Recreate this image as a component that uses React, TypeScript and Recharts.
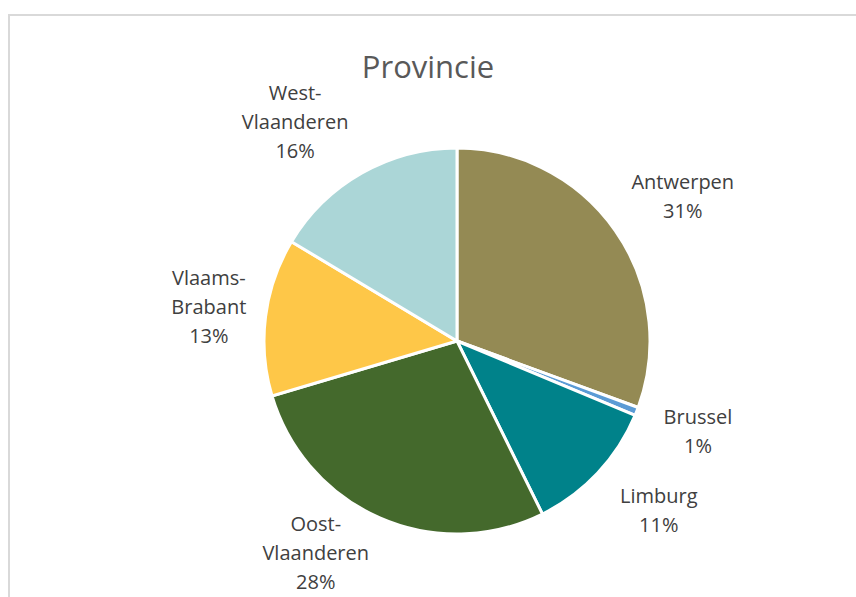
import { Cell, Pie, PieChart } from "recharts";

const provinces = [
  "Antwerpen",
  "Brussel",
  "Limburg",
  "Oost-Vlaanderen",
  "Vlaams-Brabant",
  "West-Vlaanderen",
];
const shares = [30.6, 0.7, 11.4, 27.7, 13.2, 16.4];
const sliceColors = ["#948A54", "#5B9BD5", "#00828A", "#44692C", "#FEC748", "#ABD6D7"];

const data = provinces.map((name, i) => ({ name, value: shares[i] }));

const FONT = "'Open Sans', 'Noto Sans', sans-serif";
const W = 856;
const H = 597;
const LINE_H = 29;
const LABEL_SIZE = 20;

function splitName(name: string) {
  const idx = name.indexOf("-");
  if (idx < 0) return [name];
  return [name.slice(0, idx + 1), name.slice(idx + 1)];
}

const RADIAN = Math.PI / 180;

// outside labels, pushed sideways a bit like Excel's best-fit placement
function renderLabel(props: any) {
  const { cx, cy, midAngle, outerRadius, name, percent } = props;
  const lines = [...splitName(name), `${Math.round(percent * 100)}%`];
  const longest = Math.max(...lines.map((l) => l.length));
  const w = longest * 11;
  const cos = Math.cos(-midAngle * RADIAN);
  const sin = Math.sin(-midAngle * RADIAN);
  const rx = outerRadius + 53;
  const ry = outerRadius + 55;
  const lx = cx + rx * cos + Math.sign(cos) * 0.85 * (w / 2) * Math.abs(sin);
  const ly = cy + ry * sin + (sin < 0 ? -3 : 0);
  let firstBase = ly - (LINE_H * (lines.length - 1)) / 2 + 7;
  // keep the block inside the chart area
  const lastBase = firstBase + LINE_H * (lines.length - 1);
  if (lastBase > H - 8) firstBase -= lastBase - (H - 8);
  return (
    <text
      x={lx}
      y={firstBase}
      textAnchor="middle"
      fill="#404040"
      fontSize={LABEL_SIZE}
      fontFamily={FONT}
    >
      {lines.map((l, i) => (
        <tspan key={i} x={lx} dy={i === 0 ? 0 : LINE_H}>
          {l}
        </tspan>
      ))}
    </text>
  );
}

export default function App() {
  return (
    <div
      style={{
        position: "absolute",
        left: 0,
        top: 0,
        width: W,
        height: H,
        overflow: "hidden",
        background: "#fff",
      }}
    >
      <div
        style={{
          position: "absolute",
          left: 8,
          top: 14,
          width: 900,
          height: 700,
          border: "2px solid #d9d9d9",
          boxSizing: "border-box",
        }}
      />
      <div
        style={{
          position: "absolute",
          left: 0,
          width: W,
          top: 46,
          textAlign: "center",
          fontFamily: FONT,
          fontSize: 31,
          color: "#595959",
          lineHeight: "40px",
        }}
      >
        Provincie
      </div>
      <div style={{ position: "absolute", left: 0, top: 0 }}>
        <PieChart width={W} height={H} margin={{ top: 0, right: 0, bottom: 0, left: 0 }}>
          <Pie
            data={data}
            dataKey="value"
            nameKey="name"
            cx={457}
            cy={341}
            outerRadius={193}
            startAngle={90}
            endAngle={-270}
            stroke="#fff"
            strokeWidth={3}
            label={renderLabel}
            labelLine={false}
            isAnimationActive={false}
          >
            {data.map((_, i) => (
              <Cell key={i} fill={sliceColors[i]} />
            ))}
          </Pie>
        </PieChart>
      </div>
    </div>
  );
}
